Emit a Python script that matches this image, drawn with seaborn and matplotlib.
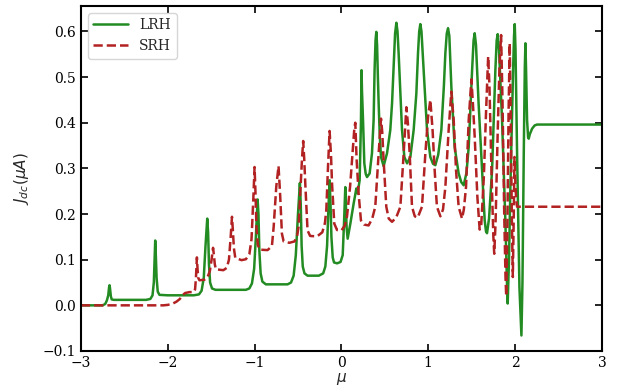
import numpy as np
import pandas as pd
import matplotlib
matplotlib.use("Agg")
import matplotlib.pyplot as plt
import seaborn as sns

# LRH curve
lrh_mu = [-3.00, -2.75, -2.72, -2.70, -2.685, -2.675, -2.670, -2.665, -2.655, -2.645, -2.62,
          -2.25, -2.20, -2.175, -2.160, -2.150, -2.144, -2.138, -2.128, -2.115, -2.095, -2.00,
          -1.70, -1.64, -1.61, -1.585, -1.565, -1.545, -1.535, -1.525, -1.512, -1.49, -1.45,
          -1.10, -1.06, -1.03, -1.005, -0.985, -0.965, -0.955, -0.945, -0.93, -0.91, -0.87,
          -0.62, -0.58, -0.55, -0.525, -0.50, -0.478, -0.468, -0.458, -0.445, -0.425, -0.39,
          -0.26, -0.21, -0.185, -0.165, -0.150, -0.136, -0.125, -0.115, -0.100, -0.085, -0.05,
          -0.010, 0.015, 0.030, 0.045, 0.052, 0.060, 0.072, 0.085, 0.103, 0.141, 0.172, 0.187,
          0.210, 0.225, 0.232, 0.237, 0.249, 0.264, 0.280, 0.295, 0.325, 0.352, 0.371, 0.382,
          0.393, 0.402, 0.411, 0.420, 0.429, 0.442, 0.456, 0.486, 0.525, 0.563, 0.583, 0.600,
          0.618, 0.633, 0.646, 0.659, 0.679, 0.698, 0.725, 0.756, 0.794, 0.832, 0.863, 0.882,
          0.896, 0.909, 0.922, 0.947, 0.986, 1.024, 1.055, 1.082, 1.115, 1.151, 1.180, 1.197,
          1.213, 1.228, 1.243, 1.266, 1.304, 1.350, 1.380, 1.408, 1.440, 1.466, 1.490, 1.505,
          1.522, 1.535, 1.550, 1.580, 1.620, 1.650, 1.665, 1.677, 1.700, 1.735, 1.773, 1.788,
          1.800, 1.815, 1.850, 1.888, 1.905, 1.915, 1.930, 1.946, 1.977, 1.988, 1.996, 2.005,
          2.023, 2.050, 2.073, 2.085, 2.100, 2.112, 2.119, 2.126, 2.138, 2.150, 2.157, 2.170,
          2.196, 2.225, 2.253, 3.00]
lrh_j = [0.000, 0.000, 0.003, 0.011, 0.022, 0.040, 0.044, 0.038, 0.020, 0.013, 0.012,
         0.012, 0.014, 0.022, 0.050, 0.110, 0.142, 0.115, 0.060, 0.030, 0.023, 0.022,
         0.022, 0.024, 0.032, 0.060, 0.130, 0.190, 0.160, 0.090, 0.050, 0.037, 0.034,
         0.034, 0.037, 0.048, 0.080, 0.150, 0.232, 0.200, 0.120, 0.070, 0.052, 0.046,
         0.046, 0.050, 0.065, 0.110, 0.200, 0.268, 0.220, 0.130, 0.085, 0.070, 0.065,
         0.065, 0.070, 0.085, 0.130, 0.210, 0.274, 0.220, 0.150, 0.105, 0.094, 0.092,
         0.095, 0.110, 0.180, 0.259, 0.220, 0.170, 0.146, 0.160, 0.179, 0.223, 0.256, 0.245,
         0.274, 0.400, 0.515, 0.470, 0.406, 0.311, 0.288, 0.281, 0.289, 0.333, 0.406, 0.515,
         0.580, 0.599, 0.570, 0.500, 0.442, 0.370, 0.325, 0.305, 0.333, 0.384, 0.442, 0.515,
         0.595, 0.619, 0.600, 0.552, 0.464, 0.384, 0.325, 0.311, 0.325, 0.384, 0.464, 0.552,
         0.600, 0.616, 0.600, 0.515, 0.384, 0.325, 0.310, 0.307, 0.330, 0.384, 0.480, 0.552,
         0.595, 0.607, 0.590, 0.479, 0.347, 0.289, 0.270, 0.263, 0.290, 0.347, 0.450, 0.515,
         0.580, 0.596, 0.570, 0.442, 0.296, 0.186, 0.162, 0.158, 0.190, 0.296, 0.515, 0.580,
         0.594, 0.560, 0.406, 0.186, 0.060, 0.004, 0.100, 0.259, 0.515, 0.590, 0.616, 0.560,
         0.333, 0.040, -0.066, 0.050, 0.333, 0.520, 0.574, 0.520, 0.406, 0.368, 0.365, 0.375,
         0.387, 0.394, 0.396, 0.396]

# SRH curve
srh_mu = [-3.00, -2.05, -2.00, -1.95, -1.90, -1.86, -1.83, -1.80, -1.75, -1.70,
          -1.685, -1.675, -1.664, -1.657, -1.648, -1.635, -1.58, -1.545, -1.515, -1.495,
          -1.478, -1.468, -1.458, -1.445, -1.36, -1.32, -1.295, -1.275, -1.260, -1.250,
          -1.238, -1.222, -1.15, -1.10, -1.06, -1.035, -1.015, -1.000, -0.990, -0.978,
          -0.962, -0.94, -0.85, -0.80, -0.78, -0.75, -0.724, -0.705, -0.685, -0.665,
          -0.60, -0.54, -0.51, -0.493, -0.470, -0.454, -0.440, -0.428, -0.416, -0.390,
          -0.36, -0.28, -0.22, -0.19, -0.174, -0.155, -0.136, -0.120, -0.108, -0.082,
          -0.05, 0.00, 0.04, 0.064, 0.100, 0.133, 0.150, 0.160, 0.175, 0.198,
          0.225, 0.26, 0.313, 0.355, 0.390, 0.429, 0.456, 0.470, 0.486, 0.517,
          0.545, 0.583, 0.630, 0.679, 0.717, 0.748, 0.765, 0.786, 0.813, 0.845,
          0.878, 0.928, 0.967, 0.998, 1.024, 1.050, 1.074, 1.100, 1.140, 1.170,
          1.197, 1.235, 1.266, 1.293, 1.320, 1.350, 1.389, 1.410, 1.435, 1.466,
          1.497, 1.515, 1.535, 1.566, 1.592, 1.610, 1.640, 1.665, 1.690, 1.705,
          1.730, 1.750, 1.760, 1.775, 1.800, 1.820, 1.839, 1.855, 1.875, 1.890,
          1.898, 1.910, 1.925, 1.938, 1.950, 1.962, 1.974, 1.985, 1.993, 2.003,
          2.012, 2.023, 3.00]
srh_j = [0.000, 0.000, 0.001, 0.003, 0.008, 0.014, 0.022, 0.027, 0.029, 0.029,
         0.035, 0.060, 0.105, 0.080, 0.060, 0.055, 0.056, 0.060, 0.075, 0.100,
         0.126, 0.110, 0.090, 0.079, 0.077, 0.082, 0.100, 0.150, 0.194, 0.165,
         0.125, 0.104, 0.099, 0.101, 0.112, 0.145, 0.230, 0.303, 0.250, 0.170,
         0.132, 0.122, 0.121, 0.130, 0.172, 0.260, 0.305, 0.240, 0.157, 0.140,
         0.137, 0.140, 0.152, 0.172, 0.260, 0.320, 0.360, 0.320, 0.267, 0.164,
         0.152, 0.151, 0.160, 0.180, 0.208, 0.300, 0.382, 0.330, 0.267, 0.179,
         0.165, 0.164, 0.175, 0.194, 0.260, 0.347, 0.390, 0.400, 0.320, 0.245,
         0.186, 0.177, 0.175, 0.190, 0.216, 0.333, 0.409, 0.380, 0.318, 0.216,
         0.190, 0.183, 0.192, 0.216, 0.333, 0.434, 0.400, 0.333, 0.216, 0.195,
         0.192, 0.216, 0.333, 0.413, 0.450, 0.384, 0.296, 0.216, 0.195, 0.210,
         0.259, 0.384, 0.468, 0.406, 0.296, 0.216, 0.190, 0.210, 0.259, 0.406,
         0.495, 0.440, 0.369, 0.237, 0.166, 0.175, 0.280, 0.420, 0.545, 0.480,
         0.280, 0.150, 0.113, 0.180, 0.380, 0.520, 0.592, 0.450, 0.200, 0.060,
         0.020, 0.150, 0.420, 0.574, 0.420, 0.200, 0.062, 0.200, 0.325, 0.270,
         0.235, 0.216, 0.216]

sns.set_style("ticks")
plt.rcParams["font.family"] = ["DejaVu Serif"]
plt.rcParams["axes.unicode_minus"] = True

fig = plt.figure(figsize=(6.27, 3.9), dpi=100)
ax = fig.add_axes([0.129, 0.100, 0.831, 0.885])

sns.lineplot(x=lrh_mu, y=lrh_j, ax=ax, color="#228B22", lw=1.8,
             sort=False, estimator=None, label="LRH")
sns.lineplot(x=srh_mu, y=srh_j, ax=ax, color="#B22222", lw=1.8, linestyle="--",
             sort=False, estimator=None, label="SRH")

ax.set_xlim(-3, 3)
ax.set_ylim(-0.1, 0.656)
ax.set_xticks(range(-3, 4))
ax.set_yticks(np.arange(-0.1, 0.61, 0.1))
ax.yaxis.set_major_formatter(
    matplotlib.ticker.FuncFormatter(lambda v, p: f"{v:.1f}".replace("-", "\u2212")))
ax.tick_params(direction="in", top=True, right=True, length=5, width=1.2,
               labelsize=10, colors="black")
for s in ax.spines.values():
    s.set_linewidth(1.5)
    s.set_color("black")

ax.set_xlabel(r"$\mu$", fontsize=11, labelpad=1)
ax.set_ylabel(r"$J_{dc}(\mu A)$", fontsize=11, labelpad=8)
ax.legend(loc="upper left", fontsize=10, frameon=True, fancybox=True,
          edgecolor="#cccccc", handlelength=2.5)

fig.savefig("out.png", dpi=100)
